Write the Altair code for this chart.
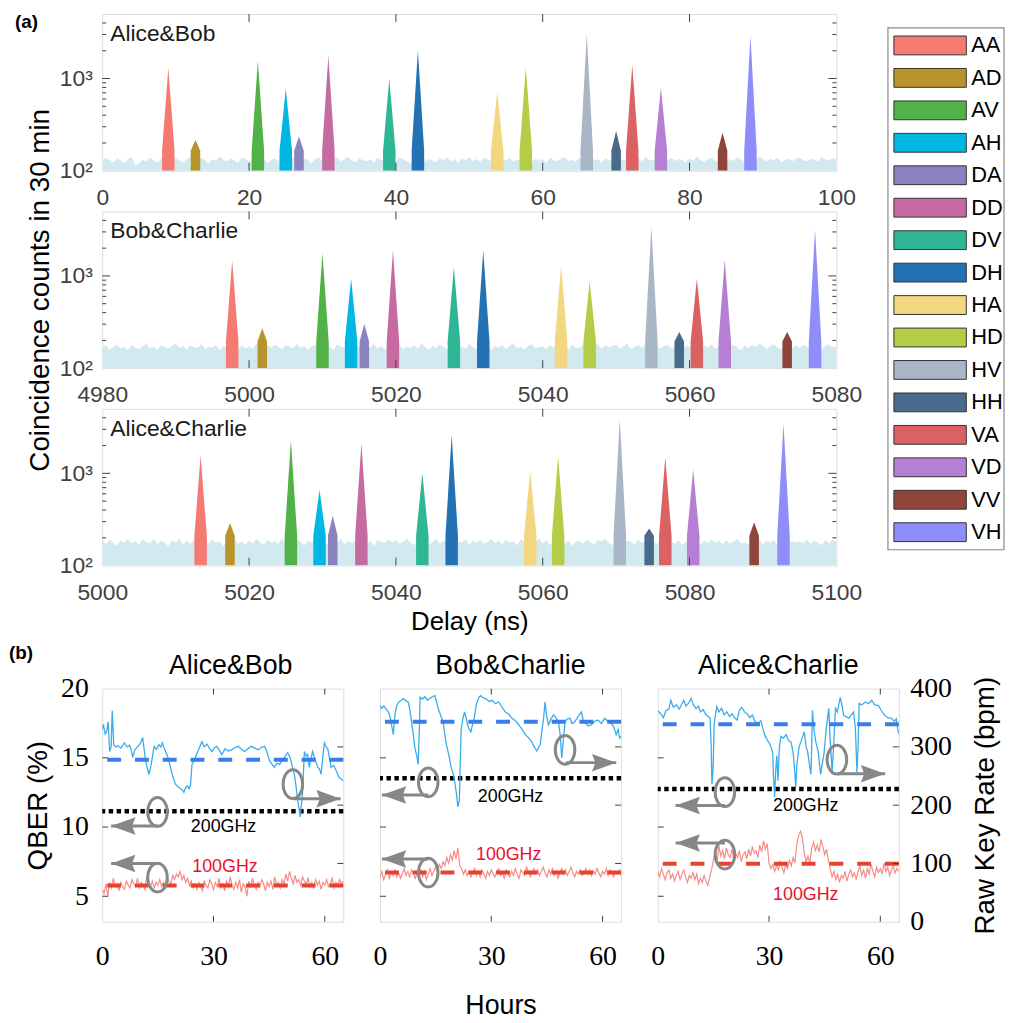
import altair as alt
import pandas as pd

SANS = "Liberation Sans"
SERIF = "Liberation Serif"
FRAME = "#404040"
GREY = "#878787"
BG_COLOR = "#D2E9F0"

# ---------------- panel (a) data ----------------
PAIRS = ["AA", "AD", "AV", "AH", "DA", "DD", "DV", "DH",
         "HA", "HD", "HV", "HH", "VA", "VD", "VV", "VH"]
LEGEND_COLORS = ["#F47A72", "#B9932B", "#53B247", "#00B6E3", "#8A83BF", "#C66BA1",
                 "#2FB795", "#9697E6", "#F2D680", "#B3CE46", "#A9B6C5", "#496B8B",
                 "#DB6262", "#B67FD3", "#8F453A", "#8E8DFA"]
PEAK_COLORS = ["#F47A72", "#B9932B", "#53B247", "#00B6E3", "#8A83BF", "#C66BA1",
               "#2FB795", "#2472B3", "#F2D680", "#B3CE46", "#A9B6C5", "#496B8B",
               "#DB6262", "#B67FD3", "#8F453A", "#8E8DFA"]

A_NAMES = ["Alice&Bob", "Bob&Charlie", "Alice&Charlie"]
A_STARTS = [0, 4980, 5000]
A_SHOULDER = [165, 195, 210]

A1_CENTERS = [9.0, 12.7, 21.2, 25.0, 26.8, 30.8, 39.1, 43.0,
              53.8, 57.7, 66.0, 70.0, 72.2, 76.1, 84.5, 88.3]
A1_HEIGHTS = [1310, 215, 1560, 775, 235, 1770, 990, 2000,
              715, 1320, 3070, 270, 1400, 795, 258, 2900]
A2_CENTERS = [4997.7, 5001.8, 5010.0, 5013.9, 5015.7, 5019.6, 5027.9, 5031.9,
              5042.5, 5046.4, 5054.8, 5058.6, 5061.0, 5064.8, 5073.3, 5077.1]
A2_HEIGHTS = [1475, 271, 1765, 935, 302, 1890, 1250, 1890,
              1300, 877, 3420, 246, 935, 1510, 246, 3180]
A3_CENTERS = [5013.4, 5017.4, 5025.7, 5029.6, 5031.4, 5035.3, 5043.6, 5047.6,
              5058.3, 5062.1, 5070.5, 5074.5, 5076.7, 5080.5, 5088.8, 5092.8]
A3_HEIGHTS = [1575, 290, 2280, 660, 347, 2100, 1000, 2580,
              1070, 1535, 3900, 252, 1490, 1100, 295, 3450]

# background coincidences, 0.5 ns steps
BG1 = [128, 138, 131, 124, 136, 129, 121, 134, 140, 114,
       119, 132, 126, 139, 130, 123, 135, 142, 128, 125,
       137, 130, 122, 133, 141, 127, 124, 138, 131, 120,
       134, 128, 143, 132, 126, 136, 129, 122, 139, 133,
       125, 131, 140, 128, 135, 121, 130, 137, 127, 142,
       133, 126, 138, 129, 124, 136, 131, 119, 134, 140,
       128, 135, 123, 131, 139, 126, 133, 141, 129, 124,
       137, 130, 127, 134, 122, 138, 132, 125, 140, 131,
       126, 139, 133, 128, 121, 135, 130, 143, 127, 134,
       129, 124, 137, 131, 140, 126, 133, 122, 136, 130,
       141, 128, 134, 125, 138, 132, 127, 139, 123, 135,
       130, 137, 126, 133, 129, 142, 131, 124, 136, 128,
       134, 121, 139, 130, 127, 135, 140, 128, 132, 125,
       138, 131, 126, 143, 129, 134, 122, 137, 130, 127,
       135, 140, 128, 133, 125, 131, 138, 126, 141, 132,
       129, 136, 123, 134, 130, 139, 127, 135, 131, 124,
       137, 128, 142, 131, 126, 133, 138, 129, 122, 136,
       130, 134, 127, 140, 132, 125, 137, 131, 128, 143,
       133, 126, 135, 129, 138, 124, 131, 136, 127, 134,
       139, 130, 128, 135, 131, 126, 140, 133, 129, 137,
       132]
BG2 = [165, 176, 158, 170, 181, 163, 172, 155, 178, 168,
       160, 174, 183, 166, 171, 157, 179, 169, 162, 175,
       184, 167, 173, 159, 177, 170, 164, 182, 161, 172,
       168, 179, 156, 174, 165, 180, 171, 158, 176, 163,
       173, 162, 185, 169, 160, 177, 166, 181, 170, 159,
       178, 171, 164, 183, 167, 175, 158, 172, 180, 165,
       162, 176, 169, 157, 182, 173, 166, 179, 161, 174,
       170, 158, 177, 168, 184, 163, 175, 160, 171, 181,
       166, 180, 159, 173, 167, 178, 162, 185, 169, 157,
       176, 164, 182, 170, 158, 174, 179, 165, 172, 161,
       183, 169, 162, 177, 166, 180, 157, 173, 168, 178,
       160, 175, 184, 164, 171, 159, 176, 182, 163, 170,
       172, 161, 178, 167, 183, 165, 174, 158, 179, 168,
       165, 181, 170, 156, 175, 184, 162, 177, 169, 173,
       179, 163, 172, 185, 160, 171, 178, 166, 182, 158,
       168, 176, 161, 174, 180, 164, 170, 183, 159, 175,
       171, 184, 166, 158, 177, 169, 181, 162, 173, 167,
       163, 172, 179, 168, 155, 176, 165, 180, 170, 184,
       177, 160, 174, 182, 167, 161, 178, 169, 164, 176,
       166, 179, 171, 163, 185, 173, 158, 175, 181, 168,
       172]
BG3 = [182, 171, 190, 176, 165, 188, 179, 194, 172, 185,
       168, 192, 181, 175, 198, 170, 186, 177, 163, 189,
       178, 196, 169, 184, 173, 191, 166, 187, 180, 174,
       193, 176, 185, 162, 189, 181, 197, 171, 183, 168,
       186, 174, 195, 179, 167, 190, 177, 184, 172, 199,
       170, 188, 176, 193, 182, 164, 187, 178, 196, 173,
       184, 167, 191, 180, 174, 198, 169, 185, 177, 190,
       175, 194, 172, 186, 163, 189, 181, 176, 192, 179,
       188, 171, 183, 197, 178, 166, 190, 174, 185, 169,
       180, 195, 173, 187, 176, 192, 168, 183, 179, 194,
       166, 185, 178, 191, 172, 180, 196, 175, 188, 170,
       190, 177, 184, 165, 193, 179, 186, 171, 182, 197,
       174, 189, 168, 183, 177, 195, 173, 187, 164, 181,
       185, 172, 192, 178, 170, 188, 182, 194, 176, 167,
       179, 196, 175, 186, 181, 169, 190, 177, 184, 173,
       191, 170, 187, 174, 198, 183, 172, 189, 166, 180,
       176, 193, 181, 167, 186, 175, 192, 178, 185, 171,
       188, 174, 183, 196, 172, 180, 169, 187, 177, 194,
       170, 186, 178, 190, 165, 182, 195, 173, 184, 179,
       183, 176, 191, 171, 187, 178, 166, 189, 175, 192,
       180]

A_CENTERS = [A1_CENTERS, A2_CENTERS, A3_CENTERS]
A_HEIGHTS = [A1_HEIGHTS, A2_HEIGHTS, A3_HEIGHTS]
A_BG = [BG1, BG2, BG3]
Y_MINOR = [200, 300, 400, 500, 600, 700, 800, 900, 2000, 3000, 4000]
Y_MAJOR = [1000]

# ---------------- panel (b) data ----------------
B_NAMES = ["Alice&Bob", "Bob&Charlie", "Alice&Charlie"]
B_NAME_SHIFT = [8, 10, 0]
QMIN = 3.16
HOUR_TICKS = [0, 30, 60]
QBER_TICKS = [5, 10, 15, 20]
RATE_TICKS = [0, 100, 200, 300, 400]

# QBER of 100 GHz channel, 0.5 h steps (%)
RED1 = [5.5, 5.2, 5.9, 5.0, 6.0, 5.6, 6.3, 5.7, 5.9, 5.4,
        6.0, 5.7, 5.5, 6.1, 5.8, 5.6, 6.2, 5.9, 5.7, 6.3,
        5.6, 6.0, 5.8, 5.5, 6.4, 5.9, 5.7, 6.1, 5.6, 6.0,
        5.8, 6.2, 5.7, 6.0, 5.5, 6.3, 6.1, 5.9, 6.5, 6.2,
        6.6, 6.4, 6.8, 6.2, 6.5, 6.0, 6.3, 5.8, 6.1, 5.6,
        5.9, 5.5, 6.0, 5.7, 5.4, 6.1, 5.8, 5.6, 6.2, 5.9,
        5.5, 6.0, 5.7, 6.3, 5.6, 5.9, 5.4, 6.1, 5.7, 6.4,
        5.8, 5.5, 6.0, 5.6, 6.2, 5.3, 5.9, 5.7, 5.0, 6.1,
        5.6, 6.3, 5.8, 5.5, 6.0, 5.7, 6.2, 5.9, 5.4, 6.0,
        5.7, 6.1, 5.5, 6.4, 5.8, 6.0, 5.6, 6.2, 5.9, 6.6,
        6.1, 6.8, 6.3, 5.9, 6.5, 6.0, 6.2, 5.8, 6.4, 6.1,
        5.9, 6.3, 5.7, 6.0, 5.6, 6.2, 5.8, 6.1, 5.5, 6.0,
        5.8, 6.2, 5.7, 5.9, 6.3, 5.6, 6.0, 5.8, 6.2, 5.9,
        6.1]
RED2 = [6.4, 6.8, 6.2, 6.6, 6.9, 6.3, 6.7, 6.5, 6.9, 6.4,
        6.7, 6.3, 6.6, 7.0, 6.5, 6.8, 6.4, 6.9, 6.6, 6.3,
        6.7, 6.5, 6.9, 6.4, 6.8, 6.2, 6.6, 7.0, 6.5, 6.8,
        7.1, 6.8, 7.3, 7.0, 7.5, 7.2, 7.8, 7.4, 8.0, 7.6,
        8.3, 7.7, 8.5, 7.2, 7.0, 6.6, 6.9, 6.5, 6.8, 6.4,
        6.7, 7.0, 6.5, 6.8, 6.4, 6.9, 6.6, 6.3, 6.8, 6.5,
        6.9, 6.6, 6.4, 6.8, 7.0, 6.5, 6.7, 6.3, 6.9, 6.6,
        6.4, 6.8, 6.5, 7.0, 6.6, 6.3, 6.9, 6.7, 6.5, 7.1,
        6.8, 6.4, 6.7, 7.0, 6.6, 6.9, 6.5, 6.8, 7.1, 6.7,
        6.4, 6.9, 6.6, 7.0, 6.5, 6.8, 6.3, 6.7, 7.0, 6.6,
        6.9, 6.5, 6.8, 7.1, 6.7, 6.4, 6.8, 6.6, 6.9, 6.5,
        6.7, 7.0, 6.6, 6.9, 6.5, 6.8, 6.6, 7.0, 6.7, 6.4,
        6.8, 6.6, 7.0, 6.5, 6.9, 6.7, 6.4, 6.8, 6.6, 6.9,
        6.5]
RED3 = [6.8, 6.4, 7.0, 6.6, 6.2, 6.7, 6.9, 6.3, 6.6, 6.1,
        6.5, 6.8, 6.2, 6.6, 6.9, 6.4, 6.0, 6.5, 6.3, 6.7,
        6.2, 6.6, 5.9, 6.3, 6.0, 6.5, 6.1, 5.8, 6.4, 6.9,
        7.6, 8.2, 7.5, 8.6, 7.9, 8.3, 7.7, 8.5, 8.0, 7.8,
        8.4, 7.6, 8.1, 7.8, 8.3, 7.5, 8.0, 8.2, 7.7, 8.4,
        7.9, 8.6, 8.1, 8.3, 7.8, 8.7, 8.2, 9.0, 8.4, 8.8,
        7.4, 7.0, 7.3, 6.8, 7.2, 6.9, 7.5, 7.1, 6.7, 7.3,
        7.0, 7.6, 7.2, 7.8, 7.4, 8.8, 9.4, 9.7, 9.2, 8.1,
        7.5, 7.9, 7.4, 8.5, 8.9, 8.3, 8.7, 8.2, 9.1, 8.6,
        8.0, 8.4, 7.6, 7.0, 6.4, 6.8, 6.2, 6.6, 6.0, 6.5,
        6.3, 6.8, 6.1, 6.6, 6.9, 6.4, 6.7, 6.2, 6.8, 7.2,
        6.5, 6.9, 6.3, 7.0, 6.6, 7.3, 6.8, 6.4, 7.1, 6.7,
        7.0, 6.6, 7.4, 6.8, 7.1, 6.5, 6.9, 7.2, 6.7, 7.0,
        6.8]

# raw key rate (hours, bpm)
BLUE1 = [(0.0, 330), (0.3, 338), (0.8, 322), (1.2, 326), (1.6, 343), (2.0, 292), (2.4, 300),
         (2.7, 362), (3.1, 304), (3.6, 300), (4.2, 302), (5.0, 298), (6.0, 307), (6.7, 300),
         (7.3, 303), (7.8, 296), (8.2, 282), (8.8, 295), (9.6, 301), (10.3, 306), (10.9, 316),
         (11.3, 296), (11.7, 276), (12.2, 262), (12.6, 253), (13.2, 270), (14.0, 301), (14.6, 296),
         (15.3, 304), (15.8, 300), (16.2, 307), (16.7, 298), (17.1, 292), (17.8, 280), (18.4, 265),
         (19.0, 250), (19.7, 236), (20.4, 232), (21.1, 228), (21.6, 226), (22.0, 222), (22.5, 230),
         (22.9, 233), (23.4, 228), (23.8, 235), (24.2, 270), (24.7, 276), (25.1, 282), (26.0, 296),
         (26.9, 309), (27.5, 300), (28.2, 305), (28.9, 298), (29.6, 292), (30.3, 299), (30.9, 301),
         (31.6, 294), (32.2, 287), (32.7, 292), (33.1, 297), (34.0, 293), (34.9, 295), (35.8, 299),
         (36.7, 301), (37.5, 296), (38.4, 292), (39.3, 297), (40.2, 301), (41.1, 298), (42.0, 295),
         (42.9, 299), (43.8, 301), (44.5, 290), (45.1, 276), (45.8, 270), (46.4, 265), (47.1, 272),
         (47.8, 270), (48.5, 276), (49.1, 282), (50.0, 290), (50.5, 284), (50.9, 276), (51.4, 262),
         (51.8, 253), (52.3, 230), (52.7, 208), (53.1, 192), (53.4, 180), (53.7, 200), (54.0, 219),
         (54.5, 292), (55.0, 284), (55.4, 287), (55.8, 265), (56.3, 280), (56.7, 292), (57.4, 278),
         (58.1, 265), (58.6, 262), (59.0, 253), (59.5, 285), (59.9, 307), (60.4, 300), (60.8, 297),
         (61.3, 280), (61.7, 265), (62.4, 268), (63.1, 259), (63.9, 247), (64.5, 245), (65.0, 242)]
BLUE2 = [(0.0, 371), (0.5, 366), (1.0, 370), (1.9, 363), (2.4, 358), (2.8, 349), (3.2, 335),
         (3.6, 321), (4.0, 355), (4.5, 371), (5.2, 378), (5.8, 380), (6.3, 383), (7.0, 379),
         (7.6, 377), (8.1, 362), (8.5, 343), (9.0, 320), (9.4, 298), (9.9, 285), (10.3, 270),
         (10.6, 330), (10.8, 385), (11.4, 382), (12.1, 386), (12.8, 380), (13.4, 383), (14.1, 386),
         (14.8, 388), (15.2, 378), (15.6, 368), (16.3, 355), (17.0, 343), (17.5, 320), (17.9, 304),
         (18.6, 285), (19.2, 264), (19.7, 255), (20.1, 242), (20.6, 220), (21.0, 197), (21.4, 208),
         (21.7, 290), (21.9, 332), (22.4, 350), (22.8, 360), (23.2, 350), (23.6, 338), (24.1, 330),
         (24.5, 326), (25.0, 340), (25.4, 349), (25.9, 370), (26.3, 380), (26.8, 386), (27.2, 388),
         (27.8, 384), (28.5, 383), (29.4, 378), (30.3, 380), (31.1, 374), (32.0, 377), (32.9, 368),
         (33.8, 360), (34.7, 356), (35.6, 349), (36.5, 345), (37.4, 338), (38.3, 330), (39.2, 321),
         (40.0, 316), (40.9, 309), (41.6, 300), (42.3, 293), (42.8, 300), (43.2, 304), (43.7, 330),
         (44.1, 349), (44.5, 377), (44.9, 355), (45.4, 338), (46.1, 348), (46.8, 355), (47.5, 350),
         (48.1, 343), (48.6, 320), (49.0, 281), (49.4, 310), (49.9, 343), (50.5, 348), (51.2, 349),
         (51.8, 340), (52.5, 343), (53.4, 352), (54.3, 360), (54.8, 345), (55.2, 343), (56.1, 336),
         (57.0, 338), (57.9, 344), (58.8, 346), (59.7, 340), (60.6, 349), (61.4, 344), (62.3, 341),
         (63.0, 335), (63.7, 321), (64.2, 330), (64.6, 315), (65.0, 318)]
BLUE3 = [(0.0, 362), (0.8, 357), (1.5, 350), (2.2, 362), (3.0, 365), (3.5, 380), (4.2, 368),
         (5.0, 372), (5.8, 365), (6.5, 374), (7.0, 380), (7.6, 370), (8.3, 375), (9.0, 383),
         (9.6, 372), (10.3, 366), (11.0, 370), (11.5, 360), (12.2, 364), (13.0, 355), (13.6, 352),
         (14.1, 349), (14.4, 300), (14.6, 236), (14.9, 260), (15.2, 340), (15.9, 369), (16.5, 360),
         (17.2, 366), (17.9, 355), (18.6, 360), (19.4, 352), (20.0, 357), (20.7, 350), (21.4, 346),
         (22.0, 363), (22.6, 368), (23.4, 360), (24.2, 356), (24.8, 350), (25.5, 355), (26.2, 344),
         (27.0, 340), (27.8, 345), (28.4, 330), (28.8, 321), (29.5, 312), (30.2, 305), (30.6, 298),
         (31.0, 290), (31.2, 250), (31.5, 214), (31.8, 260), (32.1, 285), (32.4, 242), (32.8, 300),
         (33.2, 318), (33.9, 315), (34.6, 321), (35.3, 310), (35.9, 309), (36.5, 290), (36.9, 260),
         (37.2, 231), (37.5, 270), (37.7, 281), (38.1, 300), (38.6, 309), (39.1, 318), (39.5, 326),
         (40.0, 300), (40.4, 292), (40.9, 270), (41.3, 253), (41.5, 300), (41.7, 363), (42.1, 330),
         (42.6, 309), (43.3, 290), (43.9, 253), (44.3, 270), (44.8, 287), (45.4, 330), (46.1, 366),
         (46.5, 310), (47.0, 258), (47.4, 300), (47.9, 366), (48.4, 360), (49.2, 385), (49.7, 370),
         (50.1, 354), (50.8, 352), (51.5, 349), (52.2, 355), (52.8, 360), (53.3, 330), (53.7, 256),
         (54.0, 300), (54.3, 375), (55.0, 372), (55.9, 377), (56.8, 374), (57.7, 380), (58.5, 372),
         (59.5, 371), (60.3, 362), (61.2, 354), (62.0, 350), (63.0, 349), (63.8, 344), (64.3, 348),
         (64.8, 326), (65.0, 322)]

RED = [RED1, RED2, RED3]
BLUE = [BLUE1, BLUE2, BLUE3]
QBER100_MEAN = [5.78, 6.71, 7.35]
QBER200 = [11.14, 13.53, 12.75]
RATE_MEAN = [278, 343, 339]

# annotations (hours, value)
RATE_CIRCLE = [(51.4, 236), (49.9, 295), (48.3, 278)]
RATE_ARROW = [(51.6, 64.3, 211), (50.1, 63.7, 273), (48.5, 61.3, 254)]
Q200_CIRCLE = [(14.9, 11.09), (13.0, 13.23), (18.1, 12.52)]
Q200_ARROW = [(14.9, 2.4, 10.07), (13.0, 0.5, 12.32), (18.1, 4.8, 11.56)]
Q100_CIRCLE = [(14.9, 6.35), (13.0, 6.71), (18.1, 8.01)]
Q100_ARROW = [(14.9, 2.4, 7.37), (13.0, 0.5, 7.70), (18.1, 4.8, 8.84)]
LABEL200 = [(32.7, 9.98), (35.2, 12.18), (39.9, 11.49)]
LABEL100 = [(33.1, 7.14), (34.7, 8.01), (39.9, 5.10)]

ELLIPSE = ("M0,-1C0.3756,-1,0.68,-0.5523,0.68,0C0.68,0.5523,0.3756,1,0,1"
           "C-0.3756,1,-0.68,0.5523,-0.68,0C-0.68,-0.5523,-0.3756,-1,0,-1Z")
ARROW_R = "M0,0L-1,-0.36L-0.86,0L-1,0.36Z"
ARROW_L = "M0,0L1,-0.36L0.86,0L1,0.36Z"

AW, AH_ = 740, 158
BW, BH = 243, 235


def one(**kw):
    return pd.DataFrame({k: [v] for k, v in kw.items()})


# ---------------- panel (a) ----------------
def a_x(i):
    x0 = A_STARTS[i]
    return alt.X("delay:Q",
                 scale=alt.Scale(domain=[x0, x0 + 100], nice=False, zero=False),
                 axis=alt.Axis(values=[x0 + 20 * k for k in range(6)], format="d",
                               title="Delay (ns)" if i == 2 else None,
                               labelFont=SANS, labelFontSize=23, labelColor=FRAME,
                               tickSize=0, domain=False, grid=False, labelPadding=16,
                               labelFlush=False, labelOverlap=False,
                               titleFont=SANS, titleFontSize=26, titleFontWeight="normal",
                               titleColor="black", titlePadding=4))


def a_y(i, stack=False):
    return alt.Y("count:Q",
                 scale=alt.Scale(type="log", domain=[100, 5000], nice=False),
                 stack=stack,
                 axis=alt.Axis(values=[100, 1000],
                               labelExpr="datum.value == 100 ? '10²' : '10³'",
                               title="Coincidence counts in 30 min" if i == 1 else None,
                               labelFont=SANS, labelFontSize=23, labelColor=FRAME,
                               tickSize=0, domain=False, grid=False, labelPadding=10,
                               labelFlush=False,
                               titleFont=SANS, titleFontSize=28, titleFontWeight="normal",
                               titleColor="black", titlePadding=5))


def a_panel(i):
    x0 = A_STARTS[i]
    bg = A_BG[i]
    bg_df = pd.DataFrame({"delay": [x0 + 0.5 * k for k in range(len(bg))], "count": bg})
    bg_df["base"] = 100
    rows = []
    s = A_SHOULDER[i]
    for p, c, h in zip(PAIRS, A_CENTERS[i], A_HEIGHTS[i]):
        hw = 0.85 if h > 400 else 0.65
        rows += [dict(pair=p, delay=c - hw, count=s, base=100),
                 dict(pair=p, delay=c, count=h, base=100),
                 dict(pair=p, delay=c + hw, count=s, base=100)]
    pk_df = pd.DataFrame(rows)
    xt = pd.DataFrame({"delay": [x0 + 20 * k for k in (1, 2, 3, 4)]})
    ymaj = pd.DataFrame({"count": Y_MAJOR})
    ymin = pd.DataFrame({"count": Y_MINOR})

    layers = [
        alt.Chart(bg_df).mark_area(color=BG_COLOR, clip=True).encode(
            x=a_x(i), y=a_y(i), y2="base:Q"),
        alt.Chart(pk_df).mark_area(clip=True, opacity=1).encode(
            x=a_x(i), y=a_y(i), y2="base:Q",
            color=alt.Color("pair:N", scale=alt.Scale(domain=PAIRS, range=PEAK_COLORS),
                            legend=None)),
        alt.Chart(xt).mark_rule(color=FRAME).encode(x=a_x(i), y=alt.value(0), y2=alt.value(8)),
        alt.Chart(xt).mark_rule(color=FRAME).encode(x=a_x(i), y=alt.value(AH_), y2=alt.value(AH_ - 8)),
        alt.Chart(ymaj).mark_rule(color=FRAME).encode(y=a_y(i), x=alt.value(0), x2=alt.value(8)),
        alt.Chart(ymin).mark_rule(color=FRAME).encode(y=a_y(i), x=alt.value(0), x2=alt.value(4)),
        alt.Chart(ymaj).mark_rule(color=FRAME).encode(y=a_y(i), x=alt.value(AW), x2=alt.value(AW - 8)),
        alt.Chart(ymin).mark_rule(color=FRAME).encode(y=a_y(i), x=alt.value(AW), x2=alt.value(AW - 4)),
        alt.Chart(one(t=A_NAMES[i])).mark_text(align="left", baseline="top", fontSize=23,
                                               font=SANS, color="#1a1a1a").encode(
            x=alt.value(8), y=alt.value(9), text="t:N"),
    ]
    if i == 0:
        layers.append(alt.Chart(one(t="(a)")).mark_text(
            align="left", baseline="top", fontSize=19, font=SANS, fontWeight="bold",
            color="black").encode(x=alt.value(-88), y=alt.value(-1), text="t:N"))
    return alt.layer(*layers).properties(width=AW, height=AH_)


def legend_panel():
    leg_df = pd.DataFrame({"pair": PAIRS})

    def LY():
        return alt.Y("pair:N", sort=PAIRS, axis=None,
                     scale=alt.Scale(domain=PAIRS, range=[14, 540],
                                     paddingInner=0.42, paddingOuter=0.25))
    box = alt.Chart(one(v=0)).mark_rect(fill="white", stroke="#8a8a8a", strokeWidth=1.2).encode(
        x=alt.value(0), x2=alt.value(117), y=alt.value(14), y2=alt.value(540))
    sw = alt.Chart(leg_df).mark_rect(stroke="#333333", strokeWidth=1).encode(
        y=LY(), x=alt.value(6), x2=alt.value(79),
        color=alt.Color("pair:N", scale=alt.Scale(domain=PAIRS, range=LEGEND_COLORS), legend=None))
    tx = alt.Chart(leg_df).mark_text(align="left", baseline="middle", fontSize=22, font=SANS,
                                     color="black").encode(
        y=LY(), x=alt.value(84), text="pair:N")
    return alt.layer(box, sw, tx).properties(width=117, height=540,
                                             view=alt.ViewBackground(strokeOpacity=0))


# ---------------- panel (b) ----------------
def b_x(i):
    return alt.X("h:Q", scale=alt.Scale(domain=[0, 65], nice=False, zero=False),
                 axis=alt.Axis(values=HOUR_TICKS, title="Hours" if i == 1 else None,
                               labelFont=SERIF, labelFontSize=28, labelColor="black",
                               tickSize=0, domain=False, grid=False, labelPadding=21,
                               labelFlush=False, labelOverlap=False,
                               titleFont=SANS, titleFontSize=27, titleFontWeight="normal",
                               titleColor="black", titlePadding=22))


def b_q(i):
    sc = alt.Scale(domain=[QMIN, 20], nice=False, zero=False)
    if i == 0:
        return alt.Y("q:Q", scale=sc,
                     axis=alt.Axis(values=QBER_TICKS, title="QBER (%)",
                                   labelFont=SERIF, labelFontSize=28, labelColor="black",
                                   tickSize=0, domain=False, grid=False, labelPadding=14,
                                   labelFlush=False,
                                   titleFont=SANS, titleFontSize=28, titleFontWeight="normal",
                                   titleColor="black", titlePadding=8))
    return alt.Y("q:Q", scale=sc, axis=None)


def b_k(i):
    sc = alt.Scale(domain=[0, 400], nice=False, zero=False)
    if i == 2:
        return alt.Y("k:Q", scale=sc,
                     axis=alt.Axis(orient="right", values=RATE_TICKS, title="Raw Key Rate (bpm)",
                                   labelFont=SERIF, labelFontSize=28, labelColor="black",
                                   tickSize=0, domain=False, grid=False, labelPadding=11,
                                   labelFlush=False,
                                   titleFont=SANS, titleFontSize=28, titleFontWeight="normal",
                                   titleColor="black", titlePadding=20,
                                   titleAngle=270, titleBaseline="top"))
    return alt.Y("k:Q", scale=sc, axis=None)


def b_panel(i):
    red_df = pd.DataFrame({"h": [0.5 * k for k in range(len(RED[i]))], "q": RED[i]})
    blue_df = pd.DataFrame(BLUE[i], columns=["h", "k"])
    circ_q = pd.DataFrame({"h": [Q200_CIRCLE[i][0], Q100_CIRCLE[i][0]],
                           "q": [Q200_CIRCLE[i][1], Q100_CIRCLE[i][1]]})
    arr_q = pd.DataFrame({"h": [Q200_ARROW[i][0], Q100_ARROW[i][0]],
                          "h2": [Q200_ARROW[i][1], Q100_ARROW[i][1]],
                          "q": [Q200_ARROW[i][2], Q100_ARROW[i][2]]})
    head_q = pd.DataFrame({"h": [Q200_ARROW[i][1], Q100_ARROW[i][1]],
                           "q": [Q200_ARROW[i][2], Q100_ARROW[i][2]]})
    X, Q, K = (lambda: b_x(i)), (lambda: b_q(i)), (lambda: b_k(i))

    left = [
        alt.Chart(red_df).mark_line(color="#F58C87", strokeWidth=1.2, clip=True).encode(x=X(), y=Q()),
        alt.Chart(one(q=QBER200[i])).mark_rule(color="black", strokeWidth=4.5,
                                               strokeDash=[4.5, 3.5]).encode(y=Q()),
        alt.Chart(one(q=QBER100_MEAN[i])).mark_rule(color="#E5432F", strokeWidth=4,
                                                    strokeDash=[14, 14]).encode(y=Q()),
        alt.Chart(one(h=LABEL200[i][0], q=LABEL200[i][1], t="200GHz")).mark_text(
            fontSize=18, font=SANS, color="black", baseline="middle").encode(x=X(), y=Q(), text="t:N"),
        alt.Chart(one(h=LABEL100[i][0], q=LABEL100[i][1], t="100GHz")).mark_text(
            fontSize=18, font=SANS, color="#E8112D", baseline="middle").encode(x=X(), y=Q(), text="t:N"),
        alt.Chart(arr_q).mark_rule(color=GREY, strokeWidth=3).encode(x=X(), x2="h2:Q", y=Q()),
        alt.Chart(head_q).mark_point(shape=ARROW_L, size=2400, filled=True, color=GREY,
                                     opacity=1, strokeWidth=0).encode(x=X(), y=Q()),
        alt.Chart(circ_q).mark_point(shape=ELLIPSE, size=841, filled=False, color=GREY,
                                     strokeWidth=3, opacity=1).encode(x=X(), y=Q()),
        alt.Chart(pd.DataFrame({"q": [5, 10, 15]})).mark_rule(color=FRAME).encode(
            y=Q(), x=alt.value(0), x2=alt.value(6)),
        alt.Chart(pd.DataFrame({"h": [30, 60]})).mark_rule(color=FRAME).encode(
            x=X(), y=alt.value(0), y2=alt.value(6)),
        alt.Chart(pd.DataFrame({"h": [30, 60]})).mark_rule(color=FRAME).encode(
            x=X(), y=alt.value(BH), y2=alt.value(BH - 6)),
        alt.Chart(one(t=B_NAMES[i])).mark_text(
            align="center", baseline="alphabetic", fontSize=27, font=SANS,
            color="black").encode(x=alt.value(BW / 2 + B_NAME_SHIFT[i]), y=alt.value(-15),
                                  text="t:N"),
    ]
    if i == 0:
        left.append(alt.Chart(one(t="(b)")).mark_text(
            align="left", baseline="top", fontSize=19, font=SANS, fontWeight="bold",
            color="black").encode(x=alt.value(-94), y=alt.value(-45), text="t:N"))

    right = [
        alt.Chart(blue_df).mark_line(color="#38ACEC", strokeWidth=1.3, clip=True).encode(x=X(), y=K()),
        alt.Chart(one(k=RATE_MEAN[i])).mark_rule(color="#3B7DE6", strokeWidth=4,
                                                 strokeDash=[14, 14]).encode(y=K()),
        alt.Chart(one(h=RATE_ARROW[i][0], h2=RATE_ARROW[i][1], k=RATE_ARROW[i][2])).mark_rule(
            color=GREY, strokeWidth=3).encode(x=X(), x2="h2:Q", y=K()),
        alt.Chart(one(h=RATE_ARROW[i][1], k=RATE_ARROW[i][2])).mark_point(
            shape=ARROW_R, size=2400, filled=True, color=GREY, opacity=1, strokeWidth=0).encode(
            x=X(), y=K()),
        alt.Chart(one(h=RATE_CIRCLE[i][0], k=RATE_CIRCLE[i][1])).mark_point(
            shape=ELLIPSE, size=841, filled=False, color=GREY, strokeWidth=3, opacity=1).encode(
            x=X(), y=K()),
        alt.Chart(pd.DataFrame({"k": [100, 200, 300]})).mark_rule(color=FRAME).encode(
            y=K(), x=alt.value(BW), x2=alt.value(BW - 6)),
    ]
    return alt.layer(alt.layer(*left), alt.layer(*right)).resolve_scale(y="independent").properties(
        width=BW, height=BH)


col_a = alt.vconcat(a_panel(0), a_panel(1), a_panel(2), spacing=41, bounds="flush")
row1 = alt.hconcat(col_a, legend_panel(), spacing=24)
row2 = alt.hconcat(b_panel(0), b_panel(1), b_panel(2), spacing=37, bounds="flush")

chart = alt.vconcat(row1, row2, spacing=8).properties(padding=0).configure_view(
    stroke=FRAME, strokeWidth=1.2).configure(font=SANS)

chart.save("out.html", embed_options={"renderer": "svg", "actions": False})
